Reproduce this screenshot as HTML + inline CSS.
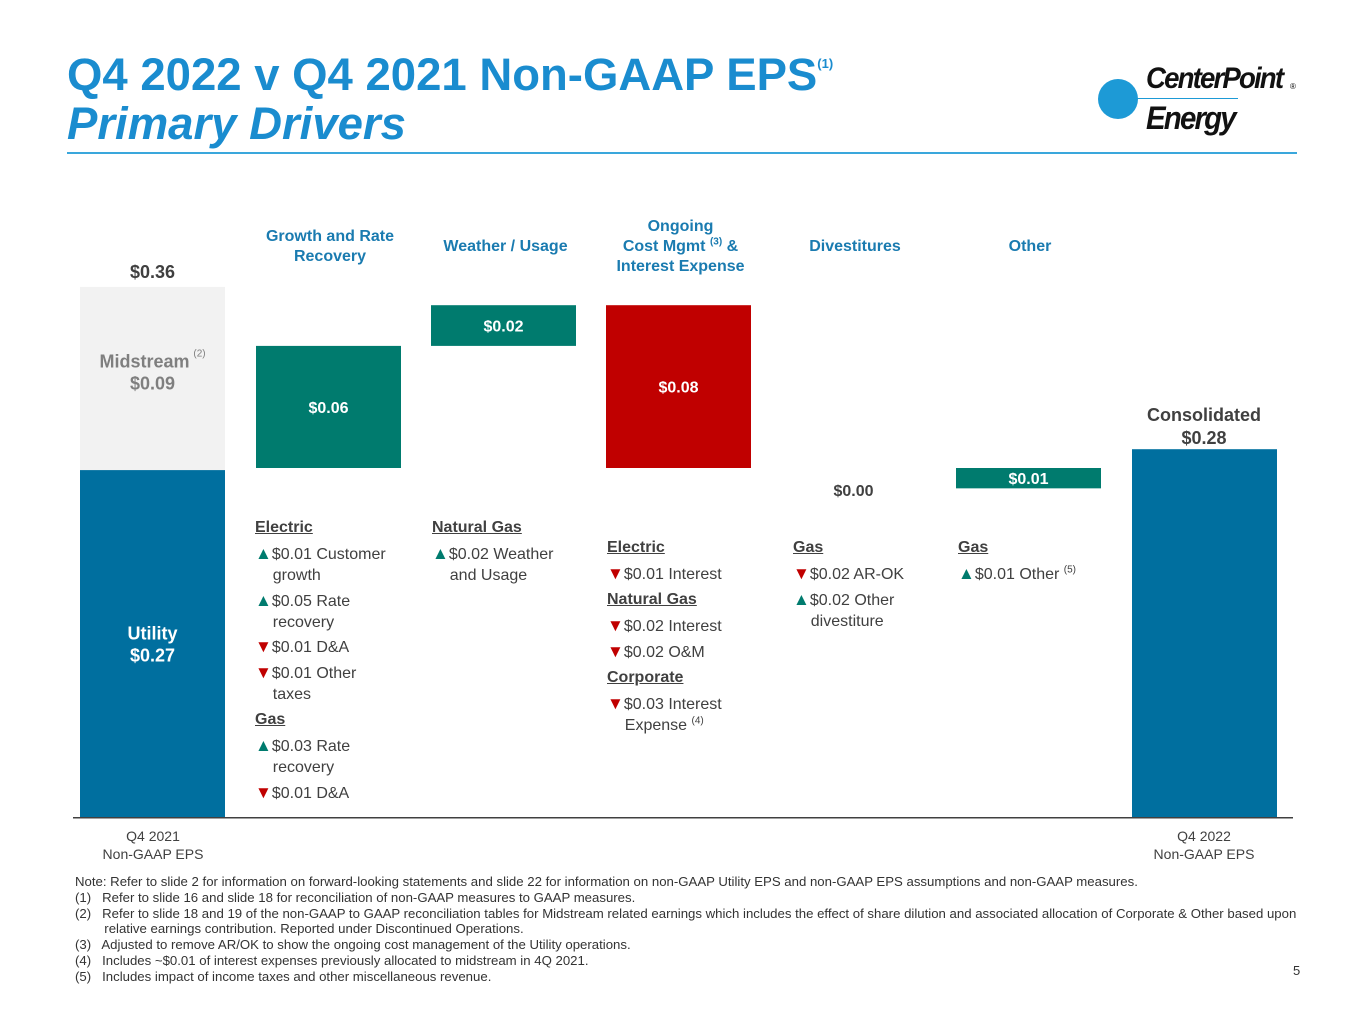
<!DOCTYPE html>
<html><head><meta charset="utf-8">
<style>
body{margin:0;width:1365px;height:1024px;background:#fff;font-family:"Liberation Sans",Arial,sans-serif;position:relative;overflow:hidden}
.a{position:absolute;white-space:nowrap}
.t{font-size:16px;color:#404040;line-height:21px}
.h{font-weight:bold;text-decoration:underline;color:#404040}
.up{color:#007b6e;font-size:17px}
.dn{color:#c00000;font-size:17px}
.hd{font-size:16px;font-weight:bold;color:#1a7bb0;text-align:center;line-height:20px}
.fn{font-size:13.2px;color:#333;line-height:15.8px}
sup{line-height:0}
</style></head><body>
<div class="a" style="left:67px;top:49px;font-size:45.5px;font-weight:bold;color:#1a8ccf">Q4 2022 v Q4 2021 Non-GAAP EPS<sup style="font-size:13px;vertical-align:22px">(1)</sup></div>
<div class="a" style="left:67px;top:98px;font-size:45.5px;font-weight:bold;font-style:italic;color:#1a8ccf">Primary Drivers</div>
<div class="a" style="left:67px;top:152px;width:1230px;height:2px;background:#3aa7dc"></div>
<div class="a" style="left:1098px;top:60px;width:200px;height:80px">
 <div class="a" style="left:0;top:19px;width:40px;height:40px;border-radius:50%;background:#1d9ad6"></div>
 <div class="a" style="left:20px;top:38px;width:120px;height:1px;background:#1d9ad6"></div>
 <div class="a" style="left:48px;top:2px;font-size:30px;font-weight:bold;font-style:italic;letter-spacing:-2px;color:#111;transform:scaleX(0.92);transform-origin:left">CenterPoint</div>
 <div class="a" style="left:192px;top:22px;font-size:8px">®</div>
 <div class="a" style="left:48px;top:40px;font-size:32px;font-weight:bold;font-style:italic;letter-spacing:-2px;color:#111;transform:scaleX(0.92);transform-origin:left">Energy</div>
</div>

<!-- headers -->
<div class="a hd" style="left:250px;top:227px;width:160px">Growth and Rate<br>Recovery</div>
<div class="a hd" style="left:423px;top:237px;width:165px">Weather / Usage</div>
<div class="a hd" style="left:598px;top:217px;width:165px">Ongoing<br>Cost Mgmt <sup style="font-size:10px">(3)</sup> &amp;<br>Interest Expense</div>
<div class="a hd" style="left:775px;top:237px;width:160px">Divestitures</div>
<div class="a hd" style="left:950px;top:237px;width:160px">Other</div>

<svg id="chart" class="a" style="left:0;top:0" width="1365" height="880"></svg>

<!-- descriptions -->
<div class="a t" style="left:255px;top:517px">
<div class="a" style="top:0"><span class="h">Electric</span></div>
<div class="a" style="top:26px"><span class="up">▲</span>$0.01 Customer<br>&nbsp;&nbsp;&nbsp;&nbsp;growth</div>
<div class="a" style="top:73px"><span class="up">▲</span>$0.05 Rate<br>&nbsp;&nbsp;&nbsp;&nbsp;recovery</div>
<div class="a" style="top:119px"><span class="dn">▼</span>$0.01 D&amp;A</div>
<div class="a" style="top:145px"><span class="dn">▼</span>$0.01 Other<br>&nbsp;&nbsp;&nbsp;&nbsp;taxes</div>
<div class="a" style="top:192px"><span class="h">Gas</span></div>
<div class="a" style="top:218px"><span class="up">▲</span>$0.03 Rate<br>&nbsp;&nbsp;&nbsp;&nbsp;recovery</div>
<div class="a" style="top:265px"><span class="dn">▼</span>$0.01 D&amp;A</div>
</div>
<div class="a t" style="left:432px;top:517px">
<div class="a" style="top:0"><span class="h">Natural Gas</span></div>
<div class="a" style="top:26px"><span class="up">▲</span>$0.02 Weather<br>&nbsp;&nbsp;&nbsp;&nbsp;and Usage</div>
</div>
<div class="a t" style="left:607px;top:537px">
<div class="a" style="top:0"><span class="h">Electric</span></div>
<div class="a" style="top:26px"><span class="dn">▼</span>$0.01 Interest</div>
<div class="a" style="top:52px"><span class="h">Natural Gas</span></div>
<div class="a" style="top:78px"><span class="dn">▼</span>$0.02 Interest</div>
<div class="a" style="top:104px"><span class="dn">▼</span>$0.02 O&amp;M</div>
<div class="a" style="top:130px"><span class="h">Corporate</span></div>
<div class="a" style="top:156px"><span class="dn">▼</span>$0.03 Interest<br>&nbsp;&nbsp;&nbsp;&nbsp;Expense <sup style="font-size:10px">(4)</sup></div>
</div>
<div class="a t" style="left:793px;top:537px">
<div class="a" style="top:0"><span class="h">Gas</span></div>
<div class="a" style="top:26px"><span class="dn">▼</span>$0.02 AR-OK</div>
<div class="a" style="top:52px"><span class="up">▲</span>$0.02 Other<br>&nbsp;&nbsp;&nbsp;&nbsp;divestiture</div>
</div>
<div class="a t" style="left:958px;top:537px">
<div class="a" style="top:0"><span class="h">Gas</span></div>
<div class="a" style="top:26px"><span class="up">▲</span>$0.01 Other <sup style="font-size:10px">(5)</sup></div>
</div>

<div class="a" style="left:73px;top:827px;width:160px;text-align:center;font-size:14px;color:#404040;line-height:18px">Q4 2021<br>Non-GAAP EPS</div>
<div class="a" style="left:1124px;top:827px;width:160px;text-align:center;font-size:14px;color:#404040;line-height:18px">Q4 2022<br>Non-GAAP EPS</div>

<div class="a fn" style="left:75px;top:874px">
Note: Refer to slide 2 for information on forward-looking statements and slide 22 for information on non-GAAP Utility EPS and non-GAAP EPS assumptions and non-GAAP measures.<br>
(1)&nbsp;&nbsp; Refer to slide 16 and slide 18 for reconciliation of non-GAAP measures to GAAP measures.<br>
(2)&nbsp;&nbsp; Refer to slide 18 and 19 of the non-GAAP to GAAP reconciliation tables for Midstream related earnings which includes the effect of share dilution and associated allocation of Corporate &amp; Other based upon<br>
&nbsp;&nbsp;&nbsp;&nbsp;&nbsp;&nbsp;&nbsp; relative earnings contribution. Reported under Discontinued Operations.<br>
(3)&nbsp;&nbsp; Adjusted to remove AR/OK to show the ongoing cost management of the Utility operations.<br>
(4)&nbsp;&nbsp; Includes ~$0.01 of interest expenses previously allocated to midstream in 4Q 2021.<br>
(5)&nbsp;&nbsp; Includes impact of income taxes and other miscellaneous revenue.
</div>
<div class="a" style="left:1293px;top:963px;font-size:13px;color:#333">5</div>

<script>
const utility2021 = 0.27;
const midstream2021 = 0.09;
const total2021 = 0.36;
const consolidated2022 = 0.28;
const driverNames = ["growth","weather","cost","divestitures","other"];
const driverValues = [0.06, 0.02, -0.08, 0.00, 0.01];
const driverLabels = ["$0.06","$0.02","$0.08","$0.00","$0.01"];

const NS="http://www.w3.org/2000/svg";
const svg=document.getElementById('chart');
const base=817, kBase=1285, kDelta=2035, anchorY=468;
const yBase=v=>base-v*kBase;
const yD=v=>anchorY-(v-utility2021)*kDelta;
const colX=[80,256,431,606,781,956,1132], bw=145;
function rect(x,y,w,h,fill,name){const r=document.createElementNS(NS,'rect');r.setAttribute('x',x);r.setAttribute('y',y);r.setAttribute('width',w);r.setAttribute('height',Math.max(h,0));r.setAttribute('fill',fill);


svg.appendChild(r);return r;}
function text(x,y,s,size,fill,name){const t=document.createElementNS(NS,'text');t.setAttribute('x',x);t.setAttribute('y',y);t.setAttribute('text-anchor','middle');t.setAttribute('font-size',size);t.setAttribute('font-weight','bold');t.setAttribute('fill',fill);t.setAttribute('font-family','Liberation Sans, Arial, sans-serif');t.textContent=s;


svg.appendChild(t);return t;}
rect(73,base,1220,1.5,'#404040','x-axis-line');
const uTop=yBase(utility2021);
rect(colX[0],uTop,bw,base-uTop,'#006f9f','bar-utility-2021');
const mH=midstream2021*kDelta;
rect(colX[0],uTop-mH,bw,mH,'#f2f2f2','bar-midstream-2021');
text(colX[0]+bw/2,(uTop+base)/2-4,'Utility',18,'#fff','utility-label');
text(colX[0]+bw/2,(uTop+base)/2+18,'$'+utility2021.toFixed(2),18,'#fff','utility-value');
text(colX[0]+bw/2-8,uTop-mH/2-11,'Midstream',18,'#7f7f7f','midstream-label');
text(colX[0]+bw/2+47,uTop-mH/2-22,'(2)',10,'#7f7f7f','midstream-footnote').setAttribute('font-weight','normal');
text(colX[0]+bw/2,uTop-mH/2+11,'$'+midstream2021.toFixed(2),18,'#7f7f7f','midstream-value');
text(colX[0]+bw/2,uTop-mH-9,'$'+total2021.toFixed(2),18,'#404040','total-2021-value');
let cum=utility2021;
driverValues.forEach((d,i)=>{
  const x=colX[i+1];
  let s=cum,e=cum+d;
  if(driverNames[i]==='other'){ e=cum-d; }
  const y1=yD(Math.max(s,e)),y2=yD(Math.min(s,e));
  const fill=d<0?'#c00000':'#007b6e';
  if(d!==0){
    rect(x,y1,bw,y2-y1,fill,'bar-'+driverNames[i]);
    text(x+bw/2,(y1+y2)/2+6,driverLabels[i],16,'#fff','value-'+driverNames[i]);
  } else {
    text(x+bw/2,yD(cum)+28,driverLabels[i],16,'#404040','value-'+driverNames[i]);
  }
  if(driverNames[i]!=='other') cum=cum+d;
});
const cTop=base-consolidated2022*kBase-8;
rect(colX[6],cTop,145,base-cTop,'#006f9f','bar-consolidated-2022');
text(colX[6]+72,cTop-28,'Consolidated',18,'#404040','consolidated-label');
text(colX[6]+72,cTop-5,'$'+consolidated2022.toFixed(2),18,'#404040','consolidated-value');
</script>
</body></html>
